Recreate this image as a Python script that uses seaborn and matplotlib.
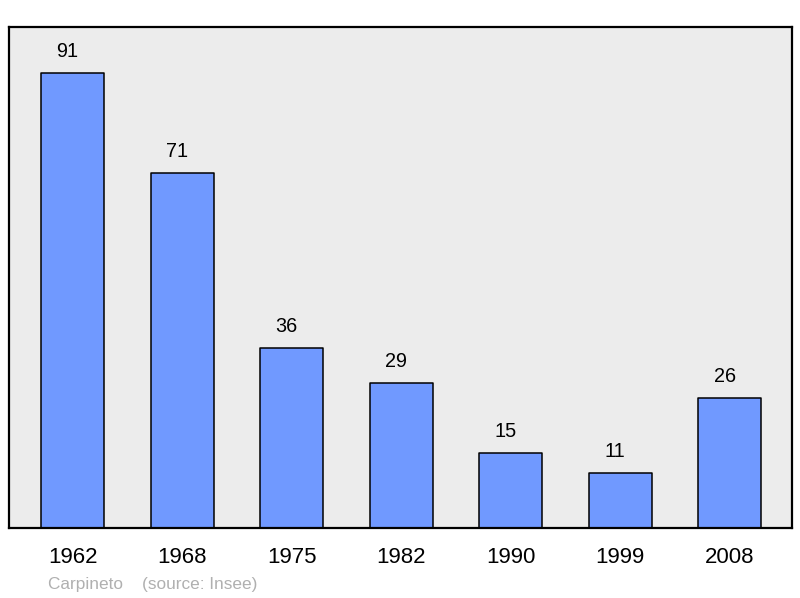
import matplotlib
matplotlib.use("Agg")
import matplotlib.pyplot as plt
import seaborn as sns
import pandas as pd

years = ["1962", "1968", "1975", "1982", "1990", "1999", "2008"]
population = [91, 71, 36, 29, 15, 11, 26]
footer_text = "Carpineto    (source: Insee)"

sns.set_theme(style="white")
plt.rcParams['font.family'] = ['Liberation Sans', 'DejaVu Sans']

df = pd.DataFrame({"year": years, "pop": population})

fig = plt.figure(figsize=(8, 5.98), dpi=100)
ax = fig.add_axes([9/800, 1-528/598, (792-9)/800, (528-27)/598])
ax.set_facecolor("#ececec")

sns.barplot(data=df, x="year", y="pop", ax=ax, color="#7099ff", width=0.575,
            edgecolor="black", linewidth=1.1, saturation=1)
for p in ax.patches:
    p.set_joinstyle("round")

for i, v in enumerate(population):
    ax.annotate(str(v), xy=(i, v), xytext=(-3.6, 15.8), textcoords="offset points",
                ha="center", va="center", fontsize=14.3, color="black")

ax.set_xlim(-0.58, 6.57)
ax.set_ylim(0, 100.2)
ax.set_xlabel("")
ax.set_ylabel("")
ax.set_yticks([])
ax.tick_params(axis="x", length=0, pad=14, labelsize=16, labelcolor="black")
for s in ax.spines.values():
    s.set_visible(True)
    s.set_color("black")
    s.set_linewidth(1.6)

fig.text(48/800, 1-584/598, footer_text, fontsize=12.4, color="#b0b0b0", ha="left", va="center")

fig.savefig("out.png", dpi=100)
